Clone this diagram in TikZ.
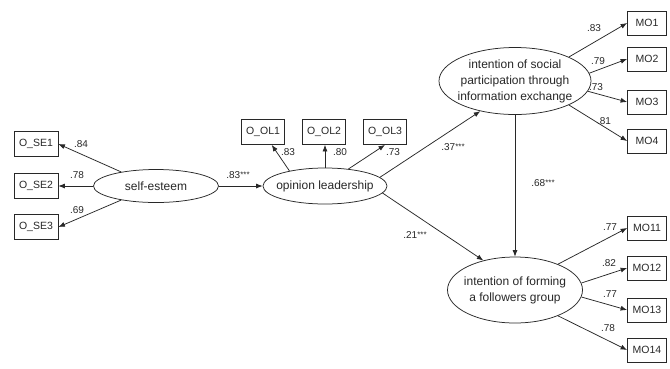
\documentclass[tikz,border=0pt]{standalone}
\usepackage{fontspec}
\setmainfont{Liberation Sans}
\usetikzlibrary{shapes.geometric,arrows.meta}
\definecolor{ink}{RGB}{40,40,40}
\newcommand\sigstars{\raisebox{1.4pt}{\fontsize{8}{8}\selectfont ***}}
\begin{document}
\begin{tikzpicture}[x=1pt,y=-1pt,
  obs/.style={draw=ink, line width=0.75pt, minimum width=44pt, minimum height=25pt, inner sep=0pt, font=\fontsize{10.5}{12}\selectfont, text=ink},
  mo/.style={obs, minimum width=39pt, minimum height=24pt},
  lat/.style={draw=ink, line width=0.75pt, ellipse, inner sep=0pt},
  lattext/.style={align=center, font=\fontsize{12}{16}\selectfont, text=ink, inner sep=0pt},
  arr/.style={draw=ink, line width=0.75pt, -{Latex[length=6.5pt,width=5pt]}},
  coef/.style={font=\fontsize{10}{12}\selectfont, text=ink, inner sep=0pt}
]
\useasboundingbox (0,0) rectangle (670,368);
\fill[white] (0,0) rectangle (670,368);

% observed indicators
\node[obs] (se1) at (36,144) {O\_SE1};
\node[obs] (se2) at (36,186) {O\_SE2};
\node[obs] (se3) at (36,227) {O\_SE3};
\node[obs, minimum width=43pt] (ool1) at (263,132) {O\_OL1};
\node[obs, minimum width=43pt] (ool2) at (324,132) {O\_OL2};
\node[obs, minimum width=43pt] (ool3) at (385,132) {O\_OL3};
\node[mo] (mo1) at (647,23) {MO1};
\node[mo] (mo2) at (647,59) {MO2};
\node[mo] (mo3) at (647,102) {MO3};
\node[mo] (mo4) at (647,141) {MO4};
\node[mo] (mo11) at (647,228) {MO11};
\node[mo] (mo12) at (647,268) {MO12};
\node[mo] (mo13) at (647,310) {MO13};
\node[mo] (mo14) at (647,350) {MO14};

% latent variables
\node[lat, minimum width=125pt, minimum height=33pt] (se) at (156,186) {};
\node[lattext] (setext) at (se) {self-esteem};
\node[lat, minimum width=124pt, minimum height=36pt] (ol) at (325,186) {};
\node[lattext] (oltext) at (ol) {opinion leadership};
\node[lat, minimum width=152pt, minimum height=67pt] (up) at (515,81) {};
\node[lattext] (uptext) at (up) {intention of social\\participation through\\information exchange};
\node[lat, minimum width=135pt, minimum height=66pt] (low) at (515,290) {};
\node[lattext] (lowtext) at (low) {intention of forming\\a followers group};

% paths
\draw[arr] (se.158) -- (se1.east);
\draw[arr] (se.west) -- (se2.east);
\draw[arr] (se.202) -- (se3.east);
\draw[arr] (se.east) -- (ol.west);
\draw[arr] (ol.157) -- (ool1);
\draw[arr] (ol.north) -- (ol.north |- ool2.south);
\draw[arr] (ol.36) -- (ool3.south);
\draw[arr] (ol.9) -- (up.221);
\draw[arr] (ol.-7) -- (low.137);
\draw[arr] (up.south) -- (low.north);
\draw[arr] (up.24) -- (mo1.west);
\draw[arr] (up.6) -- (mo2.west);
\draw[arr] (up.-8) -- (mo3.west);
\draw[arr] (up.-24) -- (mo4.west);
\draw[arr] (low.31) -- (mo11.west);
\draw[arr] (low.6) -- (mo12.west);
\draw[arr] (low.-6) -- (mo13.west);
\draw[arr] (low.-31) -- (mo14.west);

% coefficients
\node[coef] (c1) at (81,144) {.84};
\node[coef] (c2) at (77,175) {.78};
\node[coef] (c3) at (77,210) {.69};
\node[coef] (c4) at (238,175) {.83\sigstars};
\node[coef] (c5) at (288,152) {.83};
\node[coef] (c6) at (340,152) {.80};
\node[coef] (c7) at (393,152) {.73};
\node[coef] (c8) at (453,147) {.37\sigstars};
\node[coef] (c9) at (415,235) {.21\sigstars};
\node[coef] (c10) at (543,183) {.68\sigstars};
\node[coef] (c11) at (594,28) {.83};
\node[coef] (c12) at (598,61) {.79};
\node[coef] (c13) at (596,87) {.73};
\node[coef] (c14) at (604,121) {.81};
\node[coef] (c15) at (610,227) {.77};
\node[coef] (c16) at (609,263) {.82};
\node[coef] (c17) at (610,294) {.77};
\node[coef] (c18) at (608,328) {.78};
\end{tikzpicture}
\end{document}
